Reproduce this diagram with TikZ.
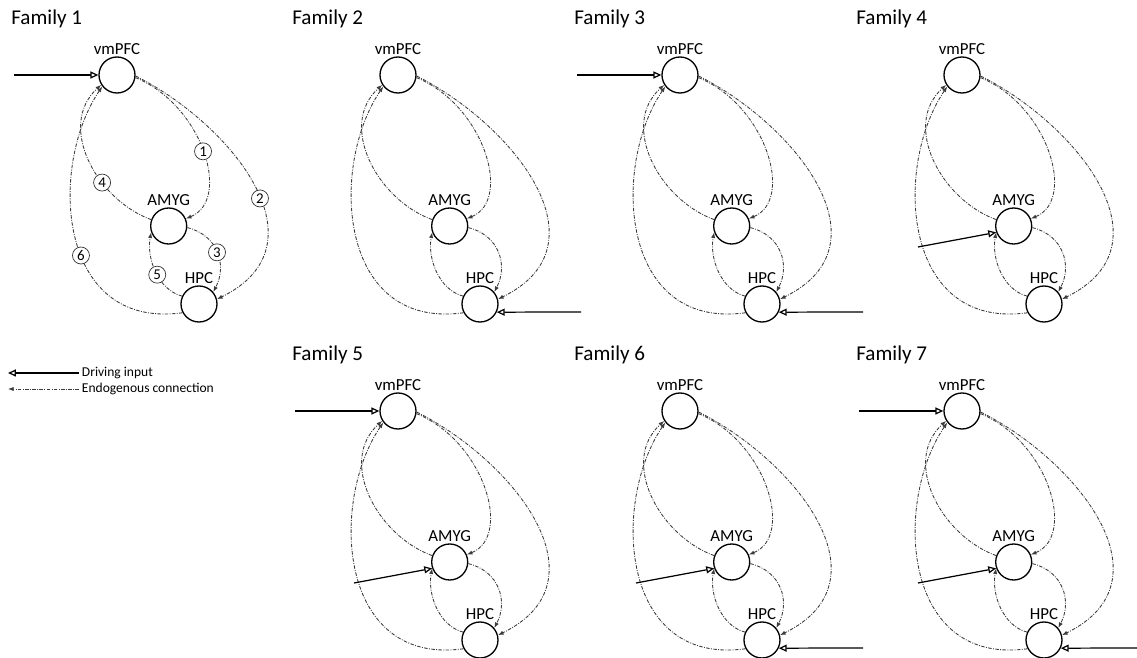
\documentclass[tikz,border=0pt]{standalone}
\usepackage{fontspec}
\setmainfont{Carlito}
\usetikzlibrary{arrows.meta}
\definecolor{edgegray}{RGB}{60,60,60}

% circled edge number, only shown in the first family
\newcommand\edgenum[2]{\ifnum\fnum=1 node[numcirc, pos=#1] {#2}\fi}

\begin{document}
\begin{tikzpicture}[x=0.02cm, y=0.02cm,
  region/.style={draw, circle, line width=0.75pt, minimum size=0.72cm, inner sep=0pt},
  regionlbl/.style={font=\fontsize{9.6}{10}\selectfont, inner sep=1pt},
  famtitle/.style={anchor=base west, font=\fontsize{12}{14}\selectfont, inner sep=0pt},
  endo/.style={edgegray, line width=0.5pt,
    dash pattern=on 2pt off 0.8pt on 0.5pt off 0.8pt,
    -{Latex[length=3.2pt, width=2.4pt]}},
  drive/.style={line width=0.7pt, -{Triangle[open, length=4.5pt, width=4pt]}},
  numcirc/.style={draw=black!80, solid, circle, fill=white, text=black, line width=0.4pt,
    inner sep=0pt, minimum size=0.34cm, font=\fontsize{8.5}{9}\selectfont},
  legendtxt/.style={anchor=west, font=\fontsize{7.7}{9}\selectfont, inner sep=1.5pt}
]
\useasboundingbox (0,0) rectangle (1137,-658);

% one panel per family: x/y of vmPFC, number, inputs on vmPFC/AMYG/HPC
\foreach \fx/\fy/\fnum/\invm/\inam/\inhp in {117/-75/1/1/0/0, 398/-75/2/0/0/1,
    680/-75/3/1/0/1, 962/-75/4/0/1/0, 398/-411/5/1/1/0, 680/-411/6/0/1/1,
    962/-411/7/1/1/1}{
  \begin{scope}[shift={(\fx,\fy)}]
    \node[famtitle] (title\fnum) at (-106,50) {Family \fnum};
    \node[region, label={[regionlbl]above:vmPFC}] (vm\fnum) at (0,0) {};
    \node[region, label={[regionlbl]above:AMYG}] (am\fnum) at (51.7,-151) {};
    \node[region, label={[regionlbl]above:HPC}] (hp\fnum) at (82,-229) {};

    % endogenous connections
    \draw[endo] (vm\fnum.-8) .. controls +(67,-27.5) and +(46,19) .. (am\fnum.23) \edgenum{.5}{1};
    \draw[endo] (vm\fnum.-3) .. controls +(97,-49) and +(110.6,54.3) .. (hp\fnum.15) \edgenum{.55}{2};
    \draw[endo] (am\fnum.-5) .. controls +(30.4,-7.4) and +(14.2,27.4) .. (hp\fnum.40) \edgenum{.5}{3};
    \draw[endo] (am\fnum.160) .. controls +(-54.8,19.8) and +(-44.7,-40.5) .. (vm\fnum.212) \edgenum{.35}{4};
    \draw[endo] (hp\fnum.155) .. controls +(-24.7,6.4) and +(-4.8,-24.8) .. (am\fnum.200) \edgenum{.45}{5};
    \draw[endo] (hp\fnum.208) .. controls +(-126,-17.5) and +(-53.8,-78.9) .. (vm\fnum.218) \edgenum{.43}{6};

    % driving inputs
    \ifnum\invm=1
      \coordinate (vmin\fnum) at (-103,0);
      \draw[drive] (vmin\fnum) -- (vm\fnum);
    \fi
    \ifnum\inam=1
      \coordinate (amin\fnum) at (-44,-172);
      \draw[drive] (amin\fnum) -- (am\fnum.200);
    \fi
    \ifnum\inhp=1
      \coordinate (hpin\fnum) at (183,-237);
      \draw[drive] (hpin\fnum) -- (hp\fnum.-26);
    \fi
  \end{scope}
}

% legend
\node[legendtxt] (drivelbl) at (79,-373) {Driving input};
\node[legendtxt] (endolbl) at (79,-389) {Endogenous connection};
\coordinate (drivetip) at (8,-373);
\coordinate (endotip) at (8,-389);
\draw[drive] (drivelbl.west) -- (drivetip);
\draw[endo] (endolbl.west) -- (endotip);
\end{tikzpicture}
\end{document}
